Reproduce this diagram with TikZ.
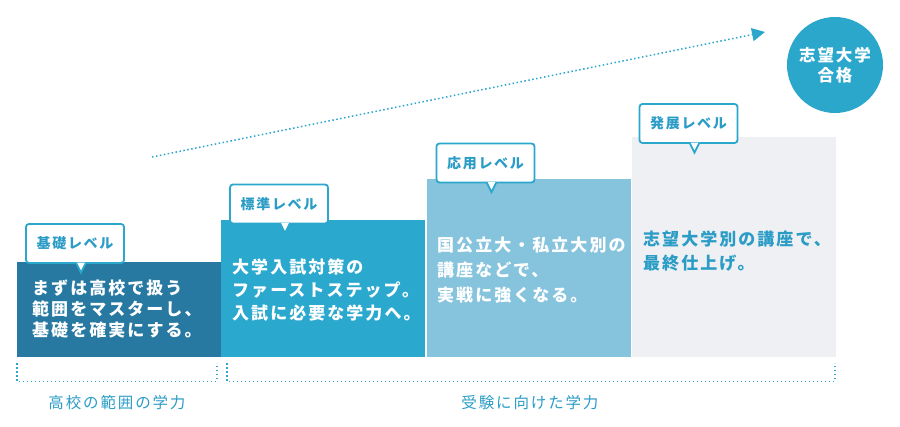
\documentclass[tikz,border=0pt]{standalone}
\usepackage{fontspec}
\setmainfont{Noto Sans CJK JP}[LetterSpace=12]
\usetikzlibrary{arrows.meta}

\definecolor{lvone}{HTML}{2779A1}
\definecolor{lvtwo}{HTML}{2BA8CE}
\definecolor{lvthree}{HTML}{86C3DD}
\definecolor{lvfour}{HTML}{EFF0F3}
\definecolor{sky}{HTML}{2BA7CC}
\definecolor{skytext}{HTML}{2A9CC6}

\begin{document}
\begin{tikzpicture}[x=1pt, y=-1pt,
    bar/.style={rectangle, inner sep=0, anchor=north west, minimum width=204},
    bartext/.style={anchor=north west, inner sep=0, align=left, text=white, font=\bfseries\fontsize{17}{23}\selectfont},
    note/.style={draw=sky, line width=1.8, fill=white, rounded corners=3, minimum width=98, minimum height=39, inner sep=0, text=skytext, font=\bfseries\fontsize{14}{14}\selectfont},
    pointer/.style={draw=sky, fill=white, line width=1.8, line join=miter},
    bracket/.style={draw=sky, line width=1.3, dash pattern=on 1.3pt off 2.7pt},
    gaptext/.style={text=skytext, font=\fontsize{15.5}{16}\selectfont}]
    \useasboundingbox (0,0) rectangle (900,427);

    % steps
    \node[bar, fill=lvone, minimum height=95] (bar1) at (17,262) {};
    \node[bar, fill=lvtwo, minimum height=137] (bar2) at (221,220) {};
    \node[bar, fill=lvthree, minimum height=178] (bar3) at (427,179) {};
    \node[bar, fill=lvfour, minimum height=220] (bar4) at (632,137) {};

    \node[bartext, font=\bfseries\fontsize{17}{21}\selectfont] (txt1) at (32,279.5) {まずは高校で扱う\\範囲をマスターし、\\基礎を確実にする。};
    \node[bartext] (txt2) at (232,258.5) {大学入試対策の\\ファーストステップ。\\入試に必要な学力へ。};
    \node[bartext, font=\bfseries\fontsize{17}{25}\selectfont] (txt3) at (437,236.5) {国公立大・私立大別の\\講座などで、\\実戦に強くなる。};
    \node[bartext, text=skytext, font=\bfseries\fontsize{17}{24}\selectfont] (txt4) at (643,230.5) {志望大学別の講座で、\\最終仕上げ。};

    % level notes
    \node[note] (note1) at (75,243.5) {基礎レベル};
    \node[note] (note2) at (279,204) {標準レベル};
    \node[note] (note3) at (485.5,163) {応用レベル};
    \node[note] (note4) at (688.5,123.5) {発展レベル};
    \filldraw[pointer] (note1.south) ++(1,-1.2) -- ++(5,10) -- ++(5,-10);
    \filldraw[pointer] (note2.south) ++(1,-1.2) -- ++(5,10) -- ++(5,-10);
    \filldraw[pointer] (note3.south) ++(1,-1.2) -- ++(5,10) -- ++(5,-10);
    \filldraw[pointer] (note4.south) ++(1,-1.2) -- ++(5,10) -- ++(5,-10);

    % goal
    \node[circle, fill=sky, minimum size=96, inner sep=0, align=center, text=white, font=\bfseries\fontsize{16.5}{20}\selectfont] (goal) at (835,65) {志望大学\\合格};
    \coordinate (rise) at (152,157);
    \coordinate (peak) at (765,32);
    \draw[sky, line width=1.5, dash pattern=on 1.5pt off 2.5pt, -{Triangle[length=13pt,width=13pt]}] (rise) -- (peak);

    % ranges
    \draw[bracket] (bar1.south west) ++(0,6) -- ++(0,18) -- ++(200,0) -- ++(0,-18);
    \draw[bracket] (bar2.south west) ++(6,6) -- ++(0,18) -- ++(608,0) -- ++(0,-18);
    \node[gaptext] (range1) at (117,403) {高校の範囲の学力};
    \node[gaptext] (range2) at (530,403) {受験に向けた学力};
\end{tikzpicture}
\end{document}
